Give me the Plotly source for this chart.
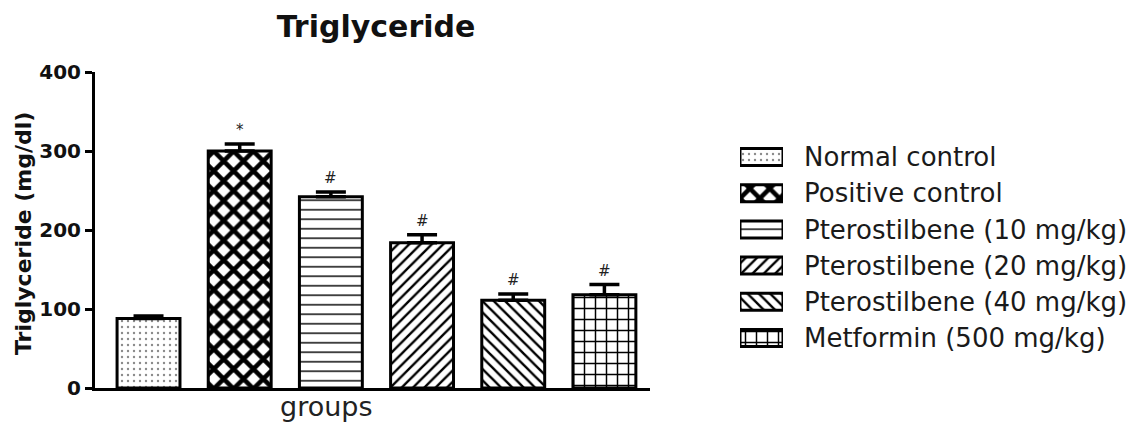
import plotly.graph_objects as go

# ---- data -------------------------------------------------------------
groups = [
    "Normal control",
    "Positive control",
    "Pterostilbene (10 mg/kg)",
    "Pterostilbene (20 mg/kg)",
    "Pterostilbene (40 mg/kg)",
    "Metformin (500 mg/kg)",
]
mean_tg = [88, 300, 242, 184, 111, 118]      # mg/dl
sem_tg = [3, 9, 6, 10, 8, 13]                # upper error (mg/dl)
sig_marks = ["", "*", "#", "#", "#", "#"]
y_ticks = [0, 100, 200, 300, 400]

# ---- hatch styles for each group ---------------------------------------
hatch_shape = [".", "x", "-", "/", "\\", "+"]
hatch_size = [6, 14, 9.5, 8, 8, 11]
hatch_solid = [0.12, 0.55, 0.15, 0.3, 0.3, 0.25]
hatch_fg = ["#8a8a8a", "#000000", "#000000", "#000000", "#000000", "#000000"]

W, H = 1134, 426
FONT = "DejaVu Sans"


def px_x(p):
    return p / W


def px_y(p):
    return (H - p) / H


pattern = dict(shape=hatch_shape, size=hatch_size, solidity=hatch_solid,
               fgcolor=hatch_fg, bgcolor="white", fillmode="replace")

fig = go.Figure()

# main bars with upper-only error bars
fig.add_trace(go.Bar(
    x=groups, y=mean_tg, width=0.69,
    marker=dict(color="white", line=dict(color="black", width=3), pattern=pattern),
    error_y=dict(type="data", symmetric=False, array=sem_tg,
                 arrayminus=[0] * len(sem_tg), color="black",
                 thickness=3.5, width=15),
    showlegend=False, hoverinfo="x+y", xaxis="x", yaxis="y",
))

# legend swatches drawn on a helper axis so the hatches stay readable
fig.add_trace(go.Bar(
    x=[1] * len(groups), y=groups, base=0, orientation="h", width=0.47,
    marker=dict(color="white", line=dict(color="black", width=3), pattern=pattern),
    showlegend=False, hoverinfo="skip", xaxis="x2", yaxis="y2",
))

annotations = []
for g, m, e, s in zip(groups, mean_tg, sem_tg, sig_marks):
    if s:
        annotations.append(dict(
            x=g, y=m + e, xref="x", yref="y", text=s, showarrow=False,
            xanchor="center", yanchor="bottom", yshift=3,
            font=dict(family=FONT, size=15, color="#222"),
        ))

annotations.append(dict(
    x=px_x(24), y=px_y(234), xref="paper", yref="paper",
    xanchor="center", yanchor="middle",
    text="Triglyceride (mg/dl)", textangle=-90, showarrow=False,
    font=dict(family=FONT, size=22, color="#111", weight="bold"),
))
annotations.append(dict(
    x=px_x(326), y=px_y(406), xref="paper", yref="paper",
    xanchor="center", yanchor="middle",
    text="groups", showarrow=False,
    font=dict(family=FONT, size=27, color="#222"),
))

fig.update_layout(
    width=W, height=H,
    margin=dict(l=0, r=0, t=0, b=0, autoexpand=False),
    paper_bgcolor="white", plot_bgcolor="white",
    title=dict(text="Triglyceride", x=px_x(376), xanchor="center",
               y=px_y(26), yanchor="middle",
               font=dict(family=FONT, size=30, color="#111", weight="bold")),
    xaxis=dict(domain=[px_x(95), px_x(650)], range=[-0.587, 5.5],
               showline=True, linewidth=3, linecolor="black",
               showticklabels=False, ticks="", showgrid=False,
               zeroline=False, anchor="y", automargin=False),
    yaxis=dict(domain=[px_y(388), px_y(72)], range=[0, 400],
               tickvals=y_ticks, ticks="outside", ticklen=7, tickwidth=3,
               tickcolor="black", showline=True, linewidth=3,
               linecolor="black", showgrid=False, zeroline=False,
               tickfont=dict(family=FONT, size=20, color="#111", weight="bold"),
               anchor="x", automargin=False),
    xaxis2=dict(domain=[px_x(740), px_x(783)], range=[0, 1], visible=False,
                anchor="y2", automargin=False),
    yaxis2=dict(domain=[px_y(356), px_y(139)], type="category",
                categoryorder="array", categoryarray=groups,
                range=[5.5, -0.5], side="right", anchor="x2",
                ticks="", showline=False, showgrid=False, zeroline=False,
                ticklabelstandoff=20, automargin=False,
                tickfont=dict(family=FONT, size=26, color="#1a1a1a")),
    annotations=annotations,
)

fig.write_html("out.html")
